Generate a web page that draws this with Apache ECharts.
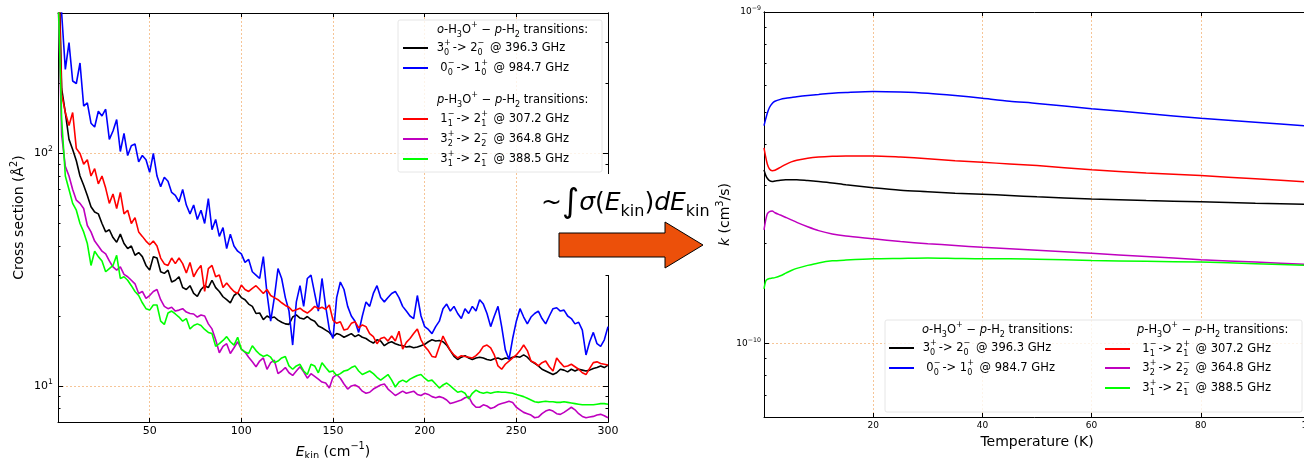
<!DOCTYPE html>
<html>
<head>
<meta charset="utf-8">
<script src="https://cdn.jsdelivr.net/npm/echarts@6/dist/echarts.min.js"></script>
<style>
html, body { margin: 0; padding: 0; background: #ffffff; }
#chart { width: 1304px; height: 458px; }
</style>
</head>
<body>
<div id="chart"></div>
<script>
// ---- Cross sections vs collision energy (cm^-1), in Å^2 ----
const energy = [
  0,2,4,6,8,10,12,14,16,18,20,22,24,26,28,30,32,34,36,38,
  40,42,44,46,48,50,52,54,56,58,60,62,64,66,68,70,72,74,76,78,
  80,82,84,86,88,90,92,94,96,98,100,102,104,106,108,110,112,114,116,118,
  120,122,124,126,128,130,132,134,136,138,140,142,144,146,148,150,152,154,156,158,
  160,162,164,166,168,170,172,174,176,178,180,182,184,186,188,190,192,194,196,198,
  200,202,204,206,208,210,212,214,216,218,220,222,224,226,228,230,232,234,236,238,
  240,242,244,246,248,250,252,254,256,258,260,262,264,266,268,270,272,274,276,278,
  280,282,284,286,288,290,292,294,296,298,300
];
// o-H3O+ 3_0^+ -> 2_0^-  (396.3 GHz)
const sigmaO396 = [
  900,190,150,115,104,93,80,73,66,59,
  56,55,50,46,47,43.5,41.5,45,41,39,
  40,36.5,37.5,36,33,31.5,36,35.5,31,30.5,
  31.5,28,28.5,29.5,26.5,26,27,25,24.3,26,
  27,26.5,28.5,26.5,25.5,24.2,23.5,22.8,24.5,25.2,
  24,23.5,22.5,22,20.5,20.6,19.3,20,19.6,19.8,
  19.2,18.8,18.5,18.4,19.8,20.2,19.6,19.4,19.9,19.3,
  19,18.1,17.8,17.4,17,16.3,16.8,16.6,16.2,16.5,
  16.8,16.3,16.6,16.2,16,15.6,15.3,15.8,15.6,14.9,
  15.3,15.5,15.2,15,14.9,14.7,14.8,14.6,14.7,14.9,
  15.1,15.5,15.8,15.6,15.7,15.5,15,14.2,13.4,13,
  13.3,13.5,13.2,13,13.2,13.3,13.2,13,12.9,13.1,
  13.2,13,13.2,13.1,13.3,13.4,13.3,13.6,13.3,12.8,
  12.5,12.2,11.8,11.6,11.4,11.2,11.4,11.8,11.7,11.5,
  11.8,11.6,11.8,11.7,11.6,11.7,11.9,12,12.2,12,
  12.3
];
// o-H3O+ 0_0^- -> 1_0^+  (984.7 GHz)
const sigmaO985 = [
  1500,400,230,300,205,200,245,160,165,135,
  130,152,145,155,115,125,140,102,122,98,
  108,110,92,98,94,83,100,80,72,79,
  76,68,66,62,70,60,55,60,52,57,
  50,64,47,52,44,48,39,45,40,38,
  37,34,35,31,30,29,36,25,19,24,
  32,29,24,21,15,23,27,22,29,30,
  25,21,29,22,17.5,16,24,28,26,22,
  20,19,17,20,23,22,25,27,24,23,
  24,25,25.5,24,22,21,20,19.5,24.5,20,
  18,17.5,16.8,18,19,21.5,22.5,21,22,20.5,
  19.5,21.5,20.5,22,21,23.5,22.5,20.5,18,20,
  22,18,14.3,13,16,19,21.5,19.8,18.5,19.8,
  20.5,21,19.5,18.5,20,21.5,21.7,21,21.2,20,
  19.5,18.5,18.8,17.4,13.6,15.5,17,15.2,14.8,15.8,
  18
];
// p-H3O+ 1_1^- -> 2_1^+  (307.2 GHz)
const sigmaP307 = [
  700,180,150,132,150,105,100,90,94,80,
  86,74,80,71,61,67,58,68,55,57,
  50,53,46,44,42,40.5,42,40,35.5,33.5,
  33,35.5,33.6,35.5,33.6,30.6,34,29.5,31.5,33,
  25.5,32,33,29.5,30,26.5,27.7,26.5,25.5,25,
  27.2,26,25.5,26.3,27,26,25,26,24.5,24,
  23.5,22.8,22.2,21.8,21,21.3,21.6,21,20.6,21.2,
  22,21.5,21.8,21.4,22.3,19.2,18.6,18.9,17.4,17.6,
  18.6,18.9,17.8,18.3,18,16.8,16.3,15.2,16,16.2,
  15.6,16.4,15.6,17.2,14.4,15.4,16,16.8,17.6,15.8,
  14.8,14.2,13.4,13.3,14.8,16.4,15.2,14.2,13.6,13.2,
  13.5,13.4,13.3,13.2,13.5,14,14.8,15,14.6,13.6,
  12.2,11.8,12.4,12.8,13.2,13.6,14.2,15,14.2,12.8,
  12.6,12.2,12.6,12.8,12.1,11.6,13.2,12.6,12.1,12.2,
  12.4,12.1,11.8,11.4,11.2,11.9,12.6,12.7,12.5,12.4,
  12.3
];
// p-H3O+ 3_2^+ -> 2_2^-  (364.8 GHz)
const sigmaP365 = [
  500,120,88,80,70,63,61,58,49,46,
  42,40,38,37,34.5,32.5,31.5,32.5,30.2,29.5,
  28.5,27.5,25,25.5,23.8,24.5,25.5,26,23.5,22,
  21.5,21.8,21,21.2,21.5,20.8,20.5,20.4,19.8,20.2,
  20,18.5,17.6,15.8,13.9,14.8,15.2,13.8,14.6,15.5,
  14.4,14,13.3,12.7,12.1,12.8,13.2,11.8,12.6,12.9,
  11.3,11.6,12,11.4,11.1,11.6,12.1,11.5,10.8,11.3,
  11,10.7,10.4,10.3,9.8,10.9,11.2,10.8,10.2,9.7,
  10,10.1,9.9,9.5,9.3,9.4,9.7,9.9,10.1,10.2,
  9.7,9.4,9.1,9.3,9.5,9.3,9.4,9.5,9.2,9.1,
  9.3,9.2,9,8.9,9,8.9,8.7,8.4,8.5,8.6,
  8.7,8.9,9,8.4,8.1,8.1,8.3,8.2,8,8.1,
  8.3,8.4,8.5,8.6,8.5,8.1,7.9,7.7,7.6,7.5,
  7.3,7.35,7.6,7.8,7.9,7.8,7.6,7.55,7.7,7.9,
  8.1,7.9,7.6,7.4,7.3,7.35,7.4,7.5,7.55,7.45,
  7.3
];
// p-H3O+ 3_1^+ -> 2_1^-  (388.5 GHz)
const sigmaP389 = [
  500,140,80,70,61,57,50,46,41,33,
  38,36,34.5,31,32,33,36.5,29,29.5,28.5,
  27,25.5,24.5,22.8,21.5,21.2,22.3,22.3,19,18.4,
  20.6,21,20.4,19.8,19,19.5,17.6,18.2,18.5,18.2,
  17.5,17,16.8,14.8,15.2,15.7,16.3,15.5,15,16.2,
  14.4,14,13.8,14.9,14.2,13.7,13.4,13.6,13.3,12.6,
  12.8,13.2,13.4,12.2,11.8,12.2,12.4,11.6,11.2,12.4,
  12.2,11.4,12.6,12,11.5,11.6,11.1,11.3,11.6,11.7,
  12,12.2,11.6,11.2,11.4,11.6,11.3,10.9,10.6,10.9,
  11.2,10.6,9.9,10.4,10.6,10.4,10.7,10.9,11.1,11.2,
  10.8,10.5,10.6,10.2,9.8,10.1,10.3,10,9.7,9.4,
  9.5,9.3,8.8,9.3,9.6,9.4,9.3,9.4,9.3,9.4,
  9.45,9.4,9.4,9.35,9.3,9.2,9.1,9,8.85,8.7,
  8.55,8.5,8.55,8.6,8.55,8.55,8.5,8.5,8.55,8.5,
  8.45,8.4,8.35,8.3,8.3,8.3,8.3,8.35,8.4,8.4,
  8.35
];

// ---- Rate coefficients vs temperature (K), in cm^3/s ----
const temperature = [0,0.3,0.6,1,1.5,2,3,4,5,6,8,10,12.5,15,20,25,30,35,40,45,50,60,70,80,90,100];
const rateO396 = [3.34e-10,3.22e-10,3.15e-10,3.10e-10,3.08e-10,3.09e-10,3.11e-10,3.12e-10,3.12e-10,3.12e-10,3.10e-10,3.08e-10,3.05e-10,3.01e-10,2.95e-10,2.90e-10,2.87e-10,2.84e-10,2.82e-10,2.795e-10,2.77e-10,2.73e-10,2.70e-10,2.675e-10,2.65e-10,2.63e-10];
const rateO985 = [4.54e-10,4.75e-10,4.95e-10,5.15e-10,5.30e-10,5.38e-10,5.45e-10,5.49e-10,5.52e-10,5.55e-10,5.60e-10,5.64e-10,5.69e-10,5.72e-10,5.76e-10,5.74e-10,5.69e-10,5.60e-10,5.49e-10,5.38e-10,5.30e-10,5.11e-10,4.94e-10,4.78e-10,4.65e-10,4.52e-10];
const rateP307 = [3.89e-10,3.66e-10,3.48e-10,3.36e-10,3.32e-10,3.33e-10,3.40e-10,3.47e-10,3.53e-10,3.57e-10,3.62e-10,3.65e-10,3.67e-10,3.68e-10,3.68e-10,3.65e-10,3.61e-10,3.56e-10,3.52e-10,3.48e-10,3.44e-10,3.34e-10,3.27e-10,3.21e-10,3.14e-10,3.07e-10];
const rateP365 = [2.20e-10,2.35e-10,2.46e-10,2.50e-10,2.51e-10,2.48e-10,2.44e-10,2.40e-10,2.36e-10,2.32e-10,2.25e-10,2.19e-10,2.14e-10,2.11e-10,2.07e-10,2.03e-10,2.00e-10,1.975e-10,1.95e-10,1.93e-10,1.91e-10,1.87e-10,1.83e-10,1.79e-10,1.76e-10,1.73e-10];
const rateP389 = [1.46e-10,1.54e-10,1.56e-10,1.57e-10,1.575e-10,1.58e-10,1.60e-10,1.63e-10,1.66e-10,1.685e-10,1.72e-10,1.75e-10,1.775e-10,1.785e-10,1.80e-10,1.805e-10,1.81e-10,1.805e-10,1.80e-10,1.80e-10,1.795e-10,1.78e-10,1.77e-10,1.76e-10,1.74e-10,1.72e-10];

// ---- Axis ticks ----
const sigmaMajorTicks = [10, 100];
const sigmaMinorTicks = [8, 9, 20, 30, 40, 50, 60, 70, 80, 90, 200, 300, 400];
const rateMajorTicks = [1e-10, 1e-9];
const rateMinorTicks = [6e-11, 7e-11, 8e-11, 9e-11, 2e-10, 3e-10, 4e-10, 5e-10, 6e-10, 7e-10, 8e-10, 9e-10];

// ---- Transitions (series keys, colours, legend text) ----
const transitionKeys = ['o396', 'o985', 'p307', 'p365', 'p389'];
const transitionColors = ['#000000', '#0000ff', '#ff0000', '#bf00bf', '#00ff00'];
const transitionLabels = [
  '{b| 3}{sp|+}{sb|0}{b| -> 2}{sp|\u2212}{sb|0}{b|  @ 396.3 GHz}',
  '{b|  0}{sp|\u2212}{sb|0}{b| -> 1}{sp|+}{sb|0}{b|  @ 984.7 GHz}',
  '{b|  1}{sp|\u2212}{sb|1}{b| -> 2}{sp|+}{sb|1}{b|  @ 307.2 GHz}',
  '{b|  3}{sp|+}{sb|2}{b| -> 2}{sp|\u2212}{sb|2}{b|  @ 364.8 GHz}',
  '{b|  3}{sp|+}{sb|1}{b| -> 2}{sp|\u2212}{sb|1}{b|  @ 388.5 GHz}'
];
const headerOrtho = '{i|o}{b|-H}{sb|3}{b|O}{su|+}{b| \u2212 }{i|p}{b|-H}{sb|2}{b| transitions:}';
const headerPara = '{i|p}{b|-H}{sb|3}{b|O}{su|+}{b| \u2212 }{i|p}{b|-H}{sb|2}{b| transitions:}';

const sigmaSets = [sigmaO396, sigmaO985, sigmaP307, sigmaP365, sigmaP389];
const rateSets = [rateO396, rateO985, rateP307, rateP365, rateP389];

const FONT = "'DejaVu Sans', sans-serif";
const GRID_COLOR = '#f5bf8c';

function textRich(size, lh) {
  const s = size * 0.7;
  const common = { fontFamily: FONT, color: '#000', fontWeight: 'normal' };
  return {
    b: Object.assign({ fontSize: size, lineHeight: lh }, common),
    i: Object.assign({ fontSize: size, lineHeight: lh, fontStyle: 'italic' }, common),
    su: Object.assign({ fontSize: s, lineHeight: s + 2, verticalAlign: 'top' }, common),
    sp: Object.assign({ fontSize: s, lineHeight: s + 2, verticalAlign: 'top', width: 0 }, common),
    sb: Object.assign({ fontSize: s, lineHeight: s + 2, verticalAlign: 'bottom' }, common)
  };
}
const legendRich = textRich(11.5, 18);
const nameRich = textRich(14, 20);
const tickRichLeft = textRich(11, 16);
const tickRichRight = textRich(9, 13);

const labelByKey = {};
transitionKeys.forEach((k, i) => { labelByKey[k] = transitionLabels[i]; });

function pairs(xs, ys) { return xs.map((x, i) => [x, ys[i]]); }
function powerLabel(v) {
  const e = Math.round(Math.log10(v));
  return '{b|10}{su|' + (e < 0 ? '\u2212' + (-e) : e) + '}';
}

const axisLineStyle = { color: '#000', width: 1 };
const splitStyle = { show: true, lineStyle: { color: GRID_COLOR, type: [2, 2], width: 0.9 } };

function valueX(grid, min, max, interval, position, withLabels, fontSize, nameText, nameGap) {
  return {
    type: 'value', gridIndex: grid, min: min, max: max, interval: interval, position: position,
    axisLine: { show: true, lineStyle: axisLineStyle },
    axisTick: { show: true, inside: true, length: 4, lineStyle: { color: '#000' } },
    axisLabel: withLabels ? {
      show: true, margin: 4, color: '#000', fontFamily: FONT, fontSize: fontSize,
      formatter: v => (v === min ? '' : String(v))
    } : { show: false },
    splitLine: withLabels ? splitStyle : { show: false },
    name: nameText || '', nameLocation: 'middle', nameGap: nameGap || 0,
    nameTextStyle: { rich: nameRich }
  };
}
function logY(grid, min, max, position, ticks, tickLen, labels, rich, margin, nameText, nameGap) {
  return {
    type: 'log', gridIndex: grid, min: min, max: max, position: position,
    axisLine: { show: true, lineStyle: axisLineStyle },
    axisTick: { show: true, inside: true, length: tickLen, customValues: ticks, lineStyle: { color: '#000' } },
    axisLabel: labels ? {
      show: true, customValues: ticks, margin: margin, formatter: powerLabel, rich: rich
    } : { show: false },
    splitLine: labels ? splitStyle : { show: false },
    name: nameText || '', nameLocation: 'middle', nameRotate: 90, nameGap: nameGap || 0,
    nameTextStyle: { rich: nameRich }
  };
}

const series = [];
transitionKeys.forEach((k, i) => {
  series.push({
    name: k, type: 'line', xAxisIndex: 0, yAxisIndex: 0,
    data: pairs(energy, sigmaSets[i]), showSymbol: false, symbol: 'none',
    lineStyle: { color: transitionColors[i], width: 1.6 }, itemStyle: { color: transitionColors[i] },
    clip: true, animation: false, z: 2
  });
});
transitionKeys.forEach((k, i) => {
  series.push({
    name: k, type: 'line', xAxisIndex: 2, yAxisIndex: 4,
    data: pairs(temperature, rateSets[i]), showSymbol: false, symbol: 'none', smooth: 0.25,
    lineStyle: { color: transitionColors[i], width: 1.5 }, itemStyle: { color: transitionColors[i] },
    clip: true, animation: false, z: 2
  });
});

function legendItem(key, left, top) {
  return {
    data: [key], left: left, top: top, orient: 'vertical', padding: 0, itemGap: 0,
    itemWidth: 25, itemHeight: 2, icon: 'rect', selectedMode: false,
    formatter: name => labelByKey[name],
    textStyle: { rich: legendRich }
  };
}

const option = {
  backgroundColor: '#ffffff',
  animation: false,
  grid: [
    { left: 58, top: 13, width: 550, height: 409, outerBoundsMode: 'none', containLabel: false },
    { left: 764, top: 12, width: 546, height: 405, outerBoundsMode: 'none', containLabel: false }
  ],
  xAxis: [
    valueX(0, 0, 300, 50, 'bottom', true, 11, '{i|E}{sb|kin}{b| (cm}{su|\u22121}{b|)}', 18),
    valueX(0, 0, 300, 50, 'top', false),
    valueX(1, 0, 100, 20, 'bottom', true, 9, '{b|Temperature (K)}', 14),
    valueX(1, 0, 100, 20, 'top', false)
  ],
  yAxis: [
    logY(0, 7, 402, 'left', sigmaMajorTicks, 5, true, tickRichLeft, 5, '{b|Cross section (\u00c5}{su|2}{b|)}', 29),
    logY(0, 7, 402, 'left', sigmaMinorTicks, 2.5, false),
    logY(0, 7, 402, 'right', sigmaMajorTicks, 5, false),
    logY(0, 7, 402, 'right', sigmaMinorTicks, 2.5, false),
    logY(1, 6e-11, 1e-9, 'left', rateMajorTicks, 5, true, tickRichRight, 3, '{i|k}{b| (cm}{su|3}{b|/s)}', 26),
    logY(1, 6e-11, 1e-9, 'left', rateMinorTicks, 2.5, false)
  ],
  title: [
    { text: headerOrtho, left: 437, top: 21, padding: 0, textStyle: { fontWeight: 'normal', rich: legendRich } },
    { text: headerPara, left: 437, top: 91, padding: 0, textStyle: { fontWeight: 'normal', rich: legendRich } },
    { text: headerOrtho, left: 922, top: 321, padding: 0, textStyle: { fontWeight: 'normal', rich: legendRich } },
    { text: headerPara, left: 1137, top: 321, padding: 0, textStyle: { fontWeight: 'normal', rich: legendRich } }
  ],
  legend: [
    legendItem('o396', 403, 39),
    legendItem('o985', 403, 59),
    legendItem('p307', 403, 110),
    legendItem('p365', 403, 130),
    legendItem('p389', 403, 150),
    legendItem('o396', 889, 339),
    legendItem('o985', 889, 359),
    legendItem('p307', 1105, 340),
    legendItem('p365', 1105, 359),
    legendItem('p389', 1105, 379)
  ],
  graphic: { elements: [
    { type: 'rect', z: 3, shape: { x: 398, y: 20, width: 204, height: 152, r: 2 },
      style: { fill: 'rgba(255,255,255,0.8)', stroke: '#e0e0e0', lineWidth: 0.8 } },
    { type: 'rect', z: 3, shape: { x: 885, y: 320, width: 417, height: 92, r: 2 },
      style: { fill: 'rgba(255,255,255,0.8)', stroke: '#e0e0e0', lineWidth: 0.8 } },
    // panel between the two plots: integral relation and arrow
    { type: 'rect', z: 10, shape: { x: 528, y: 174, width: 184, height: 101 },
      style: { fill: '#ffffff' } },
    { type: 'polygon', z: 11,
      shape: { points: [[559, 233], [665, 233], [665, 222], [703, 245], [665, 268], [665, 257], [559, 257]] },
      style: { fill: '#ec500a', stroke: '#000', lineWidth: 1 } },
    { type: 'text', z: 11,
      style: {
        x: 541, y: 203, verticalAlign: 'middle', align: 'left',
        text: '{t|~}{big|\u222b}{ti|\u03c3}{t|(}{ti|E}{ts|kin}{t|)}{ti|dE}{ts|kin}',
        rich: {
          t: { fontFamily: FONT, fontSize: 25, lineHeight: 34, fill: '#000' },
          big: { fontFamily: FONT, fontSize: 33, lineHeight: 34, fill: '#000' },
          ti: { fontFamily: FONT, fontSize: 25, lineHeight: 34, fill: '#000', fontStyle: 'italic' },
          ts: { fontFamily: FONT, fontSize: 16, lineHeight: 20, fill: '#000', verticalAlign: 'bottom' }
        }
      } }
  ] },
  series: series
};

const chart = echarts.init(document.getElementById('chart'), null, { renderer: 'canvas' });
chart.setOption(option);
</script>
</body>
</html>
